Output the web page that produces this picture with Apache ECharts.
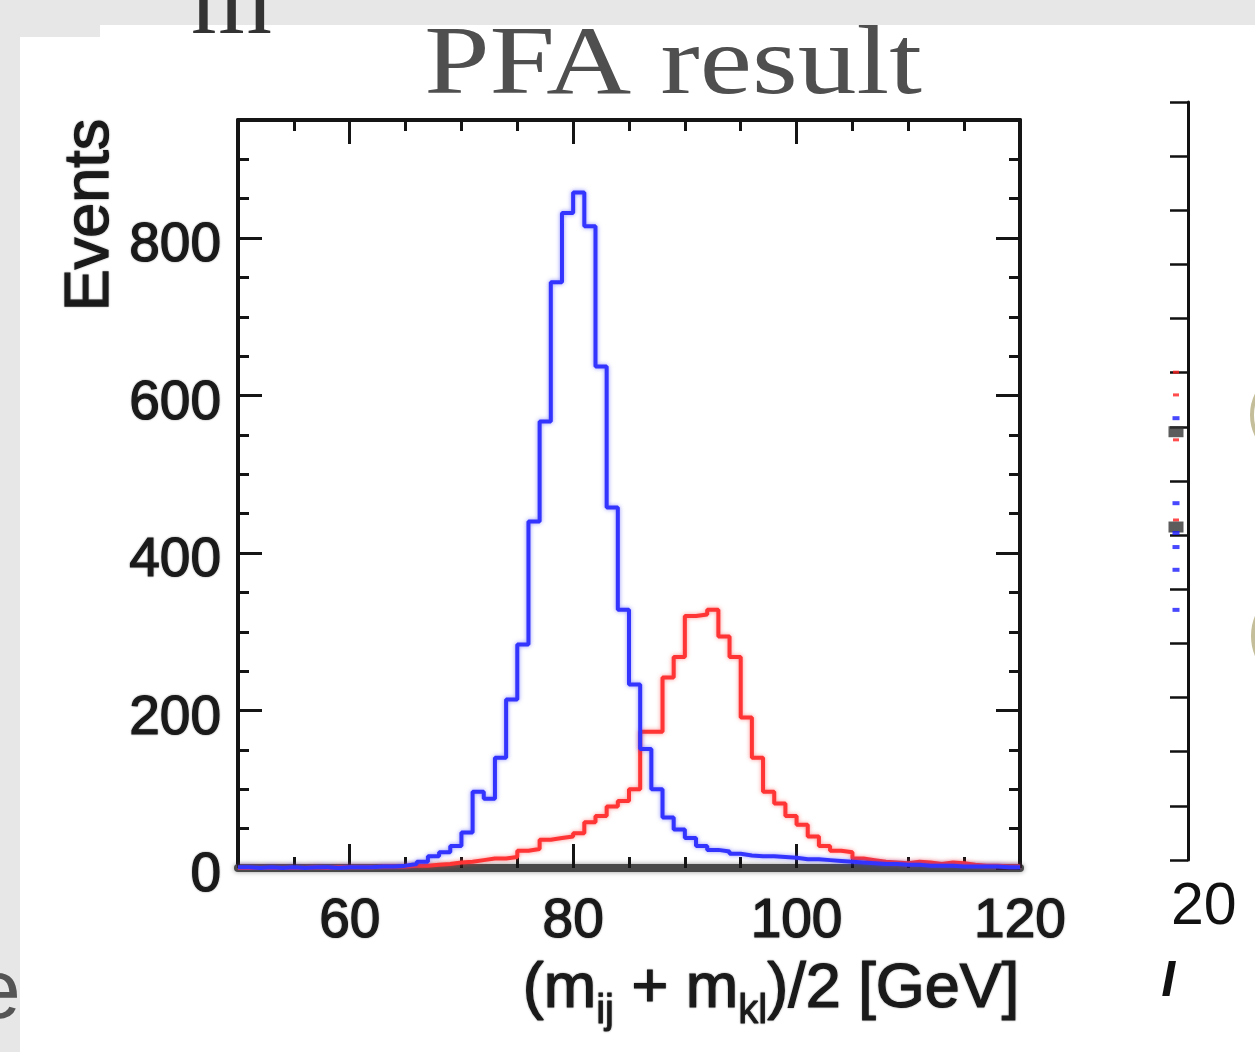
<!DOCTYPE html>
<html>
<head>
<meta charset="utf-8">
<script src="https://cdn.jsdelivr.net/npm/echarts@6/dist/echarts.min.js"></script>
<style>
html,body{margin:0;padding:0;background:#e7e7e7;}
#c{width:1255px;height:1052px;}
</style>
</head>
<body>
<div id="c"></div>
<script>
// ---- data ----
const binEdges = [50,51,52,53,54,55,56,57,58,59,60,61,62,63,64,65,66,67,68,69,
  70,71,72,73,74,75,76,77,78,79,80,81,82,83,84,85,86,87,88,89,
  90,91,92,93,94,95,96,97,98,99,100,101,102,103,104,105,106,107,108,109,
  110,111,112,113,114,115,116,117,118,119,120];
const blueCounts = [1,0,1,0,1, 0,1,1,0,1, 1,1,2,2,3, 5,8,15,20,28,
  45,97,88,140,214, 284,440,567,744,832, 858,815,637,458,328, 233,151,100,64,49,
  38,28,23,21,18, 16,15,15,14,13, 11,11,10,9,8, 7,6,5,5,4,
  4,3,3,3,2, 2,2,2,1,1];
const redCounts = [0,0,0,0,0, 0,1,0,1,1, 1,1,2,2,2, 3,3,4,5,7,
  8,10,12,12,14, 22,24,36,38,40, 44,58,66,78,85, 100,173,173,242,268,
  320,322,328,294,268, 191,140,97,82,66, 55,40,28,22,20, 12,10,8,7,6,
  8,7,5,7,6, 4,3,3,2,2];
const xMajorTicks = [60, 80, 100, 120];
const yMajorTicks = [0, 200, 400, 600, 800];
// partially visible neighbouring panel (right edge)
const sideRedY = [9.01, 8.59, 7.76, 6.28];
const sideBlueY = [8.16, 6.59, 6.04, 5.78, 5.36, 4.62];
const sideBlackY = [7.91, 6.15];

function steps(counts) {
  return binEdges.map((e, i) => [e, counts[Math.min(i, counts.length - 1)]]);
}

const ink = '#151515';
const txt = '#1a1a1a';
const labelStyle = {
  fontFamily: 'Liberation Sans', fontSize: 55, color: txt,
  textBorderColor: txt, textBorderWidth: 1.2,
  textShadowBlur: 2, textShadowColor: 'rgba(0,0,0,0.35)'
};

function xAxisPair(pos) {
  return [
    { gridIndex: 0, type: 'value', position: pos, min: 50, max: 120, interval: 5,
      axisLine: { show: true, onZero: false,
        lineStyle: pos === 'bottom'
          ? { color: '#4a4a4a', width: 8, shadowBlur: 5, shadowColor: 'rgba(0,0,0,0.4)' }
          : { color: ink, width: 4 } },
      axisTick: { show: true, inside: true, length: 11, lineStyle: { color: ink, width: 3 } },
      axisLabel: { show: false }, splitLine: { show: false } },
    { gridIndex: 0, type: 'value', position: pos, min: 50, max: 120, interval: 10,
      axisLine: { show: false, onZero: false },
      axisTick: { show: true, inside: true, length: 24, customValues: xMajorTicks,
        lineStyle: { color: ink, width: 3 } },
      axisLabel: pos === 'bottom'
        ? Object.assign({ show: true, customValues: xMajorTicks, margin: 26 }, labelStyle)
        : { show: false },
      splitLine: { show: false } }
  ];
}
function yAxisPair(pos) {
  return [
    { gridIndex: 0, type: 'value', position: pos, min: 0, max: 950, interval: 50,
      axisLine: { show: true, onZero: false, lineStyle: { color: ink, width: 4 } },
      axisTick: { show: true, inside: true, length: 11, lineStyle: { color: ink, width: 3 } },
      axisLabel: { show: false }, splitLine: { show: false } },
    { gridIndex: 0, type: 'value', position: pos, min: 0, max: 950, interval: 50,
      axisLine: { show: false, onZero: false },
      axisTick: { show: true, inside: true, length: 24, customValues: yMajorTicks,
        lineStyle: { color: ink, width: 3 } },
      axisLabel: pos === 'left'
        ? Object.assign({ show: true, customValues: yMajorTicks, margin: 17,
            verticalAlign: 'top', lineHeight: 16 }, labelStyle)
        : { show: false },
      splitLine: { show: false } }
  ];
}

const chart = echarts.init(document.getElementById('c'), null, { renderer: 'canvas' });
chart.setOption({
  backgroundColor: '#e7e7e7',
  animation: false,
  grid: [
    { left: 238, right: 235, top: 120, bottom: 184 },
    { left: 1164, right: 67, top: 102, bottom: 192 }
  ],
  xAxis: [].concat(xAxisPair('bottom'), xAxisPair('top'), [
    { gridIndex: 1, type: 'value', min: 0, max: 1, show: false }
  ]),
  yAxis: [].concat(yAxisPair('left'), yAxisPair('right'), [
    { gridIndex: 1, type: 'value', position: 'right', min: 0, max: 14, interval: 1,
      axisLine: { show: true, onZero: false, lineStyle: { color: '#111', width: 3 } },
      axisTick: { show: true, inside: true, length: 18, lineStyle: { color: '#111', width: 2.5 } },
      axisLabel: { show: false }, splitLine: { show: false } }
  ]),
  series: [
    { type: 'line', xAxisIndex: 0, yAxisIndex: 0, step: 'end', data: steps(redCounts),
      symbol: 'none', z: 3,
      lineStyle: { color: '#ff3434', width: 4, shadowBlur: 4, shadowColor: 'rgba(255,60,60,0.55)' } },
    { type: 'line', xAxisIndex: 0, yAxisIndex: 0, step: 'end', data: steps(blueCounts),
      symbol: 'none', z: 4,
      lineStyle: { color: '#3434ff', width: 4, shadowBlur: 4, shadowColor: 'rgba(60,60,255,0.55)' } },
    { type: 'scatter', xAxisIndex: 4, yAxisIndex: 4, data: sideRedY.map(v => [0.5, v]),
      symbol: 'rect', symbolSize: [6, 3], itemStyle: { color: '#ff2020' } },
    { type: 'scatter', xAxisIndex: 4, yAxisIndex: 4, data: sideBlackY.map(v => [0.5, v]),
      symbol: 'rect', symbolSize: [15, 11], itemStyle: { color: '#333' } },
    { type: 'scatter', xAxisIndex: 4, yAxisIndex: 4, data: sideBlueY.map(v => [0.5, v]),
      symbol: 'rect', symbolSize: [7, 4], itemStyle: { color: '#1a1aff' } }
  ],
  graphic: [
    { type: 'rect', z: -10, shape: { x: 100, y: 25, width: 1155, height: 30 }, style: { fill: '#ffffff' } },
    { type: 'text', z: -9, x: 191, y: 6,
      style: { text: 'm', fontFamily: 'Liberation Serif', fontSize: 104, fill: '#333', align: 'left', verticalAlign: 'middle' } },
    { type: 'text', z: -9, x: -26, y: 995,
      style: { text: 'e', fontFamily: 'Liberation Sans', fontSize: 84, fill: '#555', align: 'left', verticalAlign: 'middle' } },
    { type: 'rect', z: -8, shape: { x: 20, y: 37, width: 1235, height: 1015 }, style: { fill: '#ffffff' } },
    { type: 'text', z: 20, x: 673, y: 67, scaleX: 1.2,
      style: { text: 'PFA result', fontFamily: 'Liberation Serif', fontSize: 98, fill: '#4f4f4f', align: 'center', verticalAlign: 'middle' } },
    { type: 'text', z: 20, x: 91, y: 215, rotation: Math.PI / 2,
      style: { text: 'Events', fontFamily: 'Liberation Sans', fontSize: 63, fill: txt, align: 'center', verticalAlign: 'middle',
        stroke: txt, lineWidth: 1.2, textShadowBlur: 2, textShadowColor: 'rgba(0,0,0,0.35)' } },
    { type: 'text', z: 20, x: 771, y: 995,
      style: {
        text: '{g|\u200b}{a|(m}{s|ij}{a| + m}{s|kl}{a|)/2 [GeV]}',
        align: 'center', verticalAlign: 'middle',
        rich: {
          a: { fontFamily: 'Liberation Sans', fontSize: 63, lineHeight: 63, fill: txt, verticalAlign: 'top',
               stroke: txt, lineWidth: 1.2, textShadowBlur: 2, textShadowColor: 'rgba(0,0,0,0.35)' },
          s: { fontFamily: 'Liberation Sans', fontSize: 40, lineHeight: 40, fill: txt, verticalAlign: 'bottom',
               stroke: txt, lineWidth: 0.8, textShadowBlur: 2, textShadowColor: 'rgba(0,0,0,0.35)' },
          g: { fontSize: 10, lineHeight: 74, width: 0 }
        }
      } },
    { type: 'text', z: 20, x: 1171, y: 908,
      style: { text: '20', fontFamily: 'Liberation Sans', fontSize: 59, fill: '#111', align: 'left', verticalAlign: 'middle' } },
    { type: 'text', z: 20, x: 1163, y: 982,
      style: { text: '/', fontFamily: 'Liberation Sans', fontSize: 44, fontWeight: 'bold', fill: '#111',
        stroke: '#111', lineWidth: 2, align: 'left', verticalAlign: 'middle' } },
    { type: 'arc', z: 20, shape: { cx: 1298, cy: 415, r: 46, startAngle: 2.5, endAngle: 3.8 },
      style: { stroke: '#c4bf9a', lineWidth: 4, fill: null } },
    { type: 'arc', z: 20, shape: { cx: 1303, cy: 636, r: 50, startAngle: 2.5, endAngle: 3.8 },
      style: { stroke: '#c4bf9a', lineWidth: 4, fill: null } }
  ]
});
</script>
</body>
</html>
